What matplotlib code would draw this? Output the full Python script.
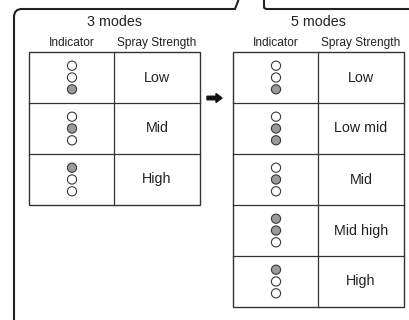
import matplotlib.pyplot as plt
from matplotlib.patches import Circle, Rectangle, FancyArrow
from matplotlib.path import Path
from matplotlib.patches import PathPatch

plt.rcParams['font.family'] = ['Liberation Sans', 'DejaVu Sans']

# mode tables: label per row and which indicator lamps are lit (top, middle, bottom)
three_titles = "3 modes"
three_levels = ["Low", "Mid", "High"]
three_lit = [[0, 0, 1], [0, 1, 0], [1, 0, 0]]

five_titles = "5 modes"
five_levels = ["Low", "Low mid", "Mid", "Mid high", "High"]
five_lit = [[0, 0, 1], [0, 1, 1], [0, 1, 0], [1, 1, 0], [1, 0, 0]]

headers = ["Indicator", "Spray Strength"]

W, H = 409, 320
fig = plt.figure(figsize=(W / 100, H / 100), dpi=100)
ax = fig.add_axes([0, 0, 1, 1])
ax.set_xlim(0, W)
ax.set_ylim(H, 0)
ax.axis('off')

line_c = '#333333'
gray = '#9a9a9a'
txt_c = '#222222'

# outer callout frame
verts = [(14, H + 5), (14, 17), (14, 9), (22, 9), (235, 9), (238.5, 0)]
codes = [Path.MOVETO, Path.LINETO, Path.CURVE3, Path.CURVE3, Path.LINETO, Path.LINETO]
ax.add_patch(PathPatch(Path(verts, codes), fill=False, ec='#222222', lw=1.5))
verts2 = [(264, 0), (264, 7), (264, 9), (267, 9), (W + 5, 9)]
codes2 = [Path.MOVETO, Path.LINETO, Path.CURVE3, Path.CURVE3, Path.LINETO]
ax.add_patch(PathPatch(Path(verts2, codes2), fill=False, ec='#222222', lw=1.5))


def draw_table(x0, x_div, x1, title, levels, lit):
    top = 52
    row_h = 51
    ax.text((x0 + x1) / 2, 22, title, ha='center', va='center', fontsize=10.3, color=txt_c)
    ax.text((x0 + x_div) / 2, 43, headers[0], ha='center', va='center', fontsize=8.6, color=txt_c)
    ax.text((x_div + x1) / 2, 43, headers[1], ha='center', va='center', fontsize=8.6, color=txt_c)
    n = len(levels)
    ax.add_patch(Rectangle((x0, top), x1 - x0, n * row_h, fill=False, ec=line_c, lw=1.0))
    ax.plot([x_div, x_div], [top, top + n * row_h], color=line_c, lw=0.9)
    for i in range(n):
        y0 = top + i * row_h
        if i > 0:
            ax.plot([x0, x1], [y0, y0], color=line_c, lw=0.9)
        cy = y0 + row_h / 2
        ax.text((x_div + x1) / 2, cy, levels[i], ha='center', va='center', fontsize=10.3, color=txt_c)
        cx = (x0 + x_div) / 2 + 0.5
        for k, on in enumerate(lit[i]):
            ax.add_patch(Circle((cx, cy + (k - 1) * 11.8), 4.6,
                                fc=gray if on else 'white', ec='#3a3a3a', lw=0.8))


draw_table(29, 114, 200, three_titles, three_levels, three_lit)
draw_table(233, 318, 404, five_titles, five_levels, five_lit)

ax.add_patch(FancyArrow(207, 98, 9, 0, width=3.5, head_width=9, head_length=6,
                        length_includes_head=False, color='#111111'))

fig.savefig('out.png', dpi=100)
